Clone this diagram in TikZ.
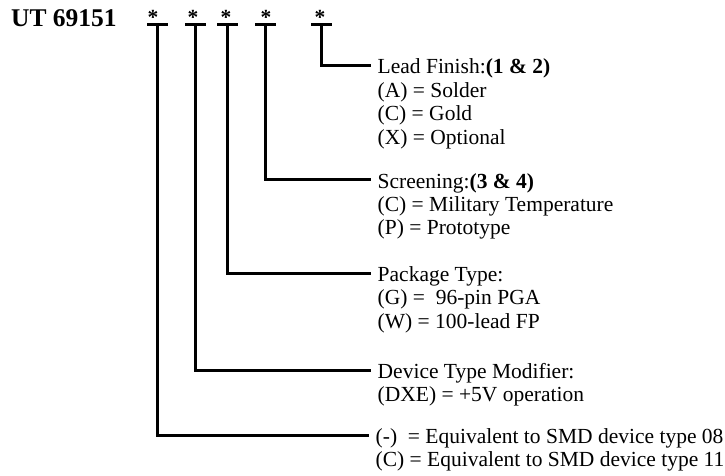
\documentclass[tikz,border=0pt]{standalone}
\usepackage{fontspec}
\setmainfont{Liberation Serif}
\usetikzlibrary{positioning}
\begin{document}
\begin{tikzpicture}[x=1pt, y=-1pt,
  title/.style={anchor=base west, inner sep=0pt, font=\fontsize{25.5}{28}\selectfont\bfseries},
  wild/.style={anchor=base, inner sep=0pt, font=\fontsize{21.5}{23.5}\selectfont\bfseries},
  bar/.style={rectangle, fill=black, inner sep=0pt, minimum width=21pt, minimum height=3pt},
  head/.style={anchor=west, inner xsep=6.5pt, inner ysep=0pt, text height=20.25pt, text depth=3.25pt, font=\fontsize{21.5}{23.5}\selectfont},
  item/.style={anchor=base west, inner xsep=6.5pt, inner ysep=0pt, font=\fontsize{21.5}{23.5}\selectfont},
  lead/.style={line width=3pt}]
\useasboundingbox (0,0) rectangle (725,476);
\node[title] (pn) at (11,27) {UT 69151};
\node[wild] (s1) at (153,25) {*};
\node[wild] (s2) at (193,25) {*};
\node[wild] (s3) at (226,25) {*};
\node[wild] (s4) at (266,25) {*};
\node[wild] (s5) at (320,25) {*};
\node[bar] (b1) at (157,25) {};
\node[bar] (b2) at (195,25) {};
\node[bar] (b3) at (227,25) {};
\node[bar] (b4) at (265,25) {};
\node[bar] (b5) at (321,25) {};
% lead finish
\node[head] (lf) at (371,65.5) {Lead Finish:\textbf{(1 \& 2)}};
\node[item, below=23.4pt of lf.base west, anchor=base west] (lfa) {(A) = Solder};
\node[item, below=23.4pt of lfa.base west, anchor=base west] (lfc) {(C) = Gold};
\node[item, below=23.4pt of lfc.base west, anchor=base west] (lfx) {(X) = Optional};
% screening
\node[head] (sc) at (371,179.5) {Screening:\textbf{(3 \& 4)}};
\node[item, below=23.4pt of sc.base west, anchor=base west] (scc) {(C) = Military Temperature};
\node[item, below=23.4pt of scc.base west, anchor=base west] (scp) {(P) = Prototype};
% package
\node[head] (pk) at (371,273) {Package Type:};
\node[item, below=23.4pt of pk.base west, anchor=base west] (pkg) {(G) =\ \ 96-pin PGA};
\node[item, below=23.4pt of pkg.base west, anchor=base west] (pkw) {(W) = 100-lead FP};
% device type modifier
\node[head] (dt) at (371,370) {Device Type Modifier:};
\node[item, below=23.4pt of dt.base west, anchor=base west] (dtx) {(DXE) = +5V operation};
% smd
\node[head] (sm) at (369,435) {(-)\ \ = Equivalent to SMD device type 08};
\node[item, below=23.4pt of sm.base west, anchor=base west] (smc) {(C) = Equivalent to SMD device type 11};
\draw[lead] (b5.center) |- (lf.west);
\draw[lead] (b4.center) |- (sc.west);
\draw[lead] (b3.center) |- (pk.west);
\draw[lead] (b2.center) |- (dt.west);
\draw[lead] (b1.center) |- (sm.west);
\end{tikzpicture}
\end{document}
